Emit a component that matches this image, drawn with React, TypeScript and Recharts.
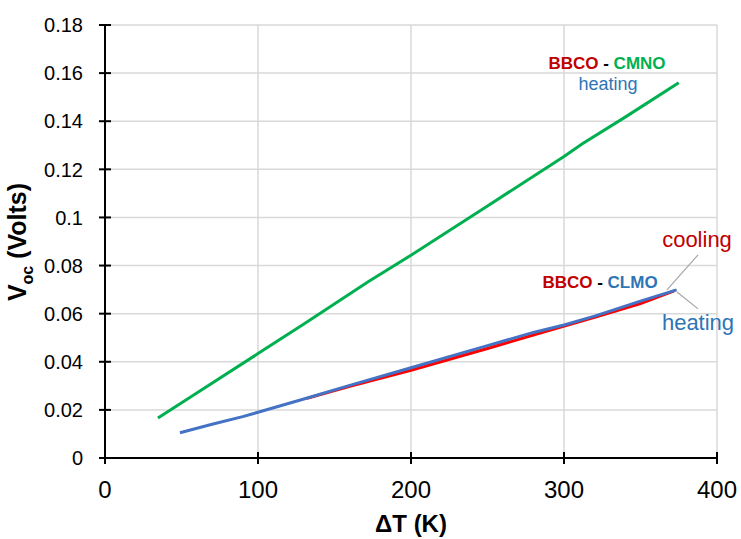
import { LineChart, Line, XAxis, YAxis, CartesianGrid, ReferenceLine, Customized } from "recharts"

// BBCO - CMNO, heating
const cmnoHeatX = [34.6, 60, 100, 130, 172, 200, 250, 300, 312, 340, 375]
const cmnoHeatY = [0.0166, 0.027, 0.0434, 0.0557, 0.0733, 0.0843, 0.1048, 0.1253, 0.1306, 0.1417, 0.156]

// BBCO - CLMO, heating
const clmoHeatX = [49, 70, 90, 100, 130, 160, 200, 250, 280, 300, 320, 350, 373.6]
const clmoHeatY = [0.0105, 0.014, 0.0172, 0.019, 0.0245, 0.0302, 0.0375, 0.0467, 0.0522, 0.0553, 0.059, 0.0652, 0.0699]

// BBCO - CLMO, cooling
const clmoCoolX = [132, 160, 200, 250, 290, 320, 350, 372]
const clmoCoolY = [0.0248, 0.0298, 0.0365, 0.0455, 0.053, 0.0585, 0.0642, 0.0695]

const xTicks = [0, 100, 200, 300, 400]
const yTicks = [0, 0.02, 0.04, 0.06, 0.08, 0.1, 0.12, 0.14, 0.16, 0.18]

const toPoints = (xs: number[], ys: number[]) => xs.map((x, i) => ({ x, y: ys[i] }))

const cmnoHeat = toPoints(cmnoHeatX, cmnoHeatY)
const clmoHeat = toPoints(clmoHeatX, clmoHeatY)
const clmoCool = toPoints(clmoCoolX, clmoCoolY)

const RED = "#c00000"
const GREEN = "#00b050"
const BLUE = "#2e75b6"
const FONT = "Arial, 'Liberation Sans', sans-serif"

const fmt = (v: number) => String(Number(v.toFixed(2)))

const YTick = (props: any) => {
  const { x, y, payload } = props
  return (
    <g>
      <line x1={x - 6} x2={x + 6} y1={y} y2={y} stroke="#000" strokeWidth={2} />
      <text x={x - 22} y={y} dy="0.36em" textAnchor="end" fontSize={20} fontFamily={FONT} fill="#000">
        {fmt(payload.value)}
      </text>
    </g>
  )
}

const XTick = (props: any) => {
  const { x, y, payload } = props
  return (
    <g>
      <line x1={x} x2={x} y1={y - 6} y2={y + 6} stroke="#000" strokeWidth={2} />
      <text x={x} y={y + 40} textAnchor="middle" fontSize={24} fontFamily={FONT} fill="#000">
        {payload.value}
      </text>
    </g>
  )
}

const Annotations = () => (
  <g fontFamily={FONT}>
    <text x={26} y={242} transform="rotate(-90 26 242)" textAnchor="middle" fontSize={25} fontWeight="bold" fill="#000">
      V<tspan fontSize={16} dy={7}>oc</tspan>
      <tspan dy={-7}> (Volts)</tspan>
    </text>
    <text x={411} y={532} textAnchor="middle" fontSize={24} fontWeight="bold" fill="#000">
      ΔT (K)
    </text>

    <text x={607} y={69} textAnchor="middle" fontSize={17} fontWeight="bold">
      <tspan fill={RED}>BBCO</tspan>
      <tspan fill="#000"> - </tspan>
      <tspan fill={GREEN}>CMNO</tspan>
    </text>
    <text x={608} y={90} textAnchor="middle" fontSize={18} fill={BLUE}>
      heating
    </text>

    <text x={600} y={288} textAnchor="middle" fontSize={17} fontWeight="bold">
      <tspan fill={RED}>BBCO</tspan>
      <tspan fill="#000"> - </tspan>
      <tspan fill={BLUE}>CLMO</tspan>
    </text>
    <text x={697} y={247} textAnchor="middle" fontSize={22} fill={RED}>
      cooling
    </text>
    <text x={698} y={330} textAnchor="middle" fontSize={22} fill={BLUE}>
      heating
    </text>
  </g>
)

export default function App() {
  return (
    <div style={{ position: "absolute", left: 0, top: 0, background: "#fff" }}>
      <LineChart width={741} height={539} margin={{ top: 25, right: 24, left: 0, bottom: 0 }}>
        <CartesianGrid stroke="#d9d9d9" strokeWidth={1.5} />
        <XAxis
          type="number"
          dataKey="x"
          domain={[0, 400]}
          ticks={xTicks}
          height={81}
          tickLine={false}
          tickSize={0}
          tickMargin={0}
          axisLine={{ stroke: "#000", strokeWidth: 2 }}
          tick={XTick}
          allowDataOverflow
        />
        <YAxis
          type="number"
          dataKey="y"
          domain={[0, 0.18]}
          ticks={yTicks}
          width={105}
          tickLine={false}
          tickSize={0}
          tickMargin={0}
          axisLine={{ stroke: "#000", strokeWidth: 2 }}
          tick={YTick}
          allowDataOverflow
        />
        <Line data={cmnoHeat} dataKey="y" stroke="#00b050" strokeWidth={3} dot={false} isAnimationActive={false} />
        <Line data={clmoCool} dataKey="y" stroke="#ff0000" strokeWidth={3} dot={false} isAnimationActive={false} />
        <Line data={clmoHeat} dataKey="y" stroke="#4472c4" strokeWidth={3} dot={false} isAnimationActive={false} />
        <ReferenceLine
          segment={[{ x: 367.3, y: 0.0699 }, { x: 387.6, y: 0.0844 }]}
          stroke="#a6a6a6"
          strokeWidth={1.2}
        />
        <ReferenceLine
          segment={[{ x: 373.9, y: 0.069 }, { x: 387.6, y: 0.062 }]}
          stroke="#a6a6a6"
          strokeWidth={1.2}
        />
        <Customized component={Annotations} />
      </LineChart>
    </div>
  )
}
